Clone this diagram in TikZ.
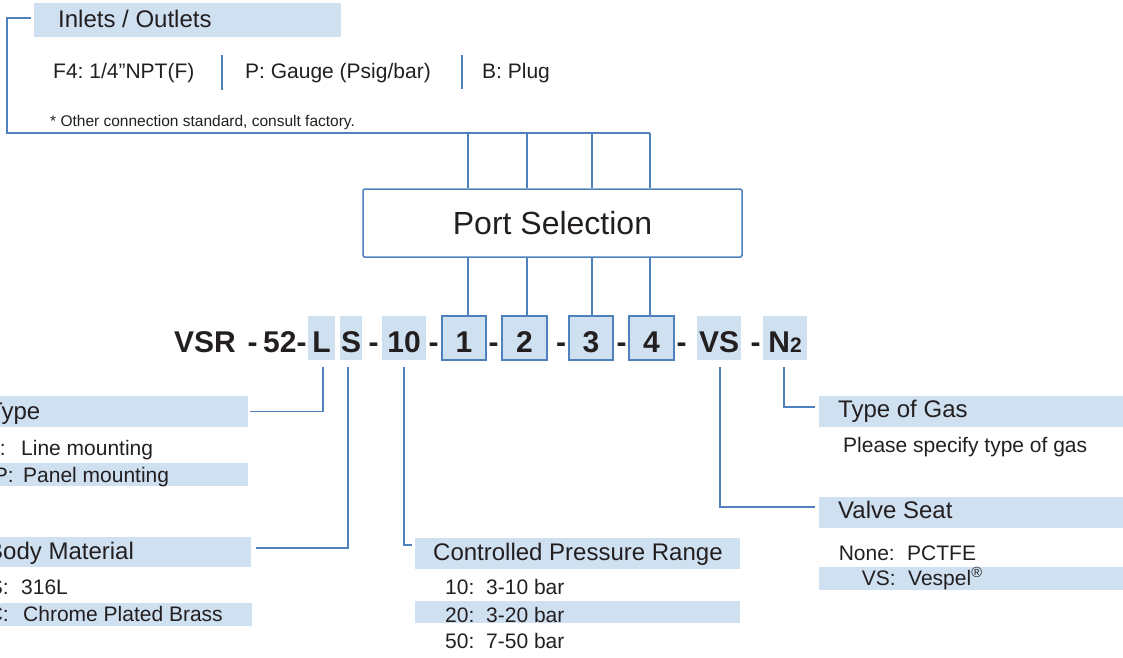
\documentclass[tikz,border=0pt]{standalone}
\usepackage{fontspec}
\setmainfont{Liberation Sans}
\frenchspacing
\definecolor{bandblue}{RGB}{207,224,241}
\definecolor{linecol}{RGB}{79,129,189}
\definecolor{txt}{RGB}{35,31,32}
\begin{document}
\frenchspacing
\begin{tikzpicture}[x=1pt,y=-1pt,
  band/.style={fill=bandblue, draw=none, inner sep=0pt, outer sep=0pt, anchor=north west},
  hd/.style={font=\fontsize{24}{28}\selectfont, text=txt, inner sep=0pt, anchor=base west},
  bd/.style={font=\fontsize{21}{25}\selectfont, text=txt, inner sep=0pt, anchor=base west},
  bdk/.style={bd, anchor=base east},
  cd/.style={font=\fontsize{30}{34}\selectfont\bfseries, text=txt, inner sep=0pt, anchor=base},
  cbox/.style={fill=bandblue, inner sep=0pt, outer sep=0pt, minimum height=44pt, anchor=north west},
  pbox/.style={cbox, draw=linecol, line width=1.2pt},
  conn/.style={draw=linecol, line width=1.1pt},
]
\useasboundingbox (0,0) rectangle (1123,657);
\clip (0,0) rectangle (1123,657);

% ---------- top: inlets / outlets ----------
\node[band, minimum width=307pt, minimum height=34pt] (tband) at (34,3) {};
\node[hd] (ttl) at (58,27) {Inlets / Outlets};
\node[bd] (f4) at (53,78) {F4: 1/4”NPT(F)};
\node[bd] (pg) at (245,78) {P: Gauge (Psig/bar)};
\node[bd] (bp) at (482,78) {B: Plug};
\draw[conn] (222,55) -- (222,90);
\draw[conn] (462,55) -- (462,89);
\node[font=\fontsize{15.5}{18}\selectfont, anchor=base west, inner sep=0pt, text=txt] (fn) at (50,126) {* Other connection standard, consult factory.};

% ---------- port selection ----------
\node[draw=linecol, line width=1.5pt, rounded corners=1.5pt, minimum width=379pt, minimum height=68pt,
      font=\fontsize{32}{36}\selectfont, text=txt] (ps) at (552.5,223) {Port Selection};

% ---------- code row ----------
\node[cbox, minimum width=27pt] (bL) at (308,316) {};
\node[cbox, minimum width=22pt] (bS) at (340,316) {};
\node[cbox, minimum width=44pt] (b10) at (382,316) {};
\node[pbox, minimum width=44pt] (p1) at (442,316) {};
\node[pbox, minimum width=45pt] (p2) at (502,316) {};
\node[pbox, minimum width=44pt] (p3) at (569,316) {};
\node[pbox, minimum width=45pt] (p4) at (629,316) {};
\node[cbox, minimum width=44pt] (bVS) at (697,316) {};
\node[cbox, minimum width=44pt] (bN) at (763,316) {};

\node[cd] (tVSR) at (205,352) {VSR};
\node[cd] (d1) at (252.5,352) {-};
\node[cd, anchor=base west] (t52) at (263,352) {52-};
\node[cd] (tL) at (321.5,352) {L};
\node[cd] (tS) at (351,352) {S};
\node[cd] (d2) at (373.5,352) {-};
\node[cd] (t10) at (404,352) {10};
\node[cd] (d3) at (433.5,352) {-};
\node[cd] (t1) at (464,352) {1};
\node[cd] (d4) at (493.5,352) {-};
\node[cd] (t2) at (524.5,352) {2};
\node[cd] (d5) at (561,352) {-};
\node[cd] (t3) at (591,352) {3};
\node[cd] (d6) at (621.5,352) {-};
\node[cd] (t4) at (651.5,352) {4};
\node[cd] (d7) at (681.5,352) {-};
\node[cd] (tVS) at (719,352) {VS};
\node[cd] (d8) at (755.5,352) {-};
\node[cd] (tN) at (785,352) {N{\fontsize{21}{25}\selectfont 2}};

% ---------- bus to port selection ----------
\coordinate (brk) at (7,18);
\coordinate (bus) at (7,133);
\draw[conn] (tband.west) ++(-3,-2) -- (brk) -- (bus) -- ([xshift=-1.5pt]bus -| p4);
\foreach \i/\s in {1/4,2/2.5,3/1,4/-1.5}{
  \draw[conn] ([xshift=\s pt]bus -| p\i) -- ([xshift=\s pt]ps.north -| p\i);
  \draw[conn] ([xshift=\s pt]ps.south -| p\i) -- ([xshift=\s pt]p\i.north);
}

% ---------- left: type ----------
\node[band, minimum width=253pt, minimum height=31pt] (typeband) at (-5,396) {};
\node[hd] (type) at (-12,419) {Type};
\node[bdk] (kL) at (6,455) {L:};
\node[bd] (vL) at (21,455) {Line mounting};
\node[band, minimum width=253pt, minimum height=23pt] (pband) at (-5,463) {};
\node[bdk] (kP) at (14,482) {P:};
\node[bd] (vP) at (23,482) {Panel mounting};

% ---------- left: body material ----------
\node[band, minimum width=256pt, minimum height=30pt] (bodyband) at (-5,537) {};
\node[hd] (body) at (-13,559) {Body Material};
\node[bdk] (kS) at (9,594) {S:};
\node[bd] (vS) at (21,594) {316L};
\node[band, minimum width=257pt, minimum height=23pt] (cband) at (-5,603) {};
\node[bdk] (kC) at (9,621) {C:};
\node[bd] (vC) at (23,621) {Chrome Plated Brass};

% ---------- middle: pressure range ----------
\node[band, minimum width=325pt, minimum height=31pt] (cprband) at (415,538) {};
\node[hd] (cpr) at (433,560) {Controlled Pressure Range};
\node[bd] (k10) at (445,594) {10:};
\node[bd] (v10) at (486,594) {3-10 bar};
\node[band, minimum width=325pt, minimum height=22pt] (b20band) at (415,601) {};
\node[bd] (k20) at (445,622) {20:};
\node[bd] (v20) at (486,622) {3-20 bar};
\node[bd] (k50) at (445,648) {50:};
\node[bd] (v50) at (486,648) {7-50 bar};

% ---------- right: gas ----------
\node[band, minimum width=310pt, minimum height=31pt] (gasband) at (819,396) {};
\node[hd] (gas) at (838,417) {Type of Gas};
\node[bd] (pls) at (843,452) {Please specify type of gas};

% ---------- right: valve seat ----------
\node[band, minimum width=310pt, minimum height=31pt] (vsband) at (819,497) {};
\node[hd] (vseat) at (838,518) {Valve Seat};
\node[bdk] (kNone) at (895,560) {None:};
\node[bd] (vNone) at (907,560) {PCTFE};
\node[band, minimum width=310pt, minimum height=23pt] (vsrow) at (819,567) {};
\node[bdk] (kVS) at (896,585) {VS:};
\node[bd] (vVS) at (908,585) {Vespel\textsuperscript{®}};

% ---------- connectors from code ----------
\draw[conn] ([xshift=1.5pt,yshift=-7pt]bL.south) |- ([xshift=2pt]typeband.east);
\draw[conn] ([xshift=-3pt,yshift=-7pt]bS.south) |- ([xshift=5pt,yshift=4pt]bodyband.east);
\draw[conn] ([yshift=-7pt]b10.south) |- ([xshift=-3pt,yshift=8.5pt]cprband.west);
\draw[conn] ([xshift=1pt,yshift=-7pt]bVS.south) |- ([xshift=-4pt,yshift=5.5pt]vsband.west);
\draw[conn] ([xshift=-1pt,yshift=-7pt]bN.south) |- ([xshift=-4pt,yshift=4.5pt]gasband.west);
\end{tikzpicture}
\end{document}
